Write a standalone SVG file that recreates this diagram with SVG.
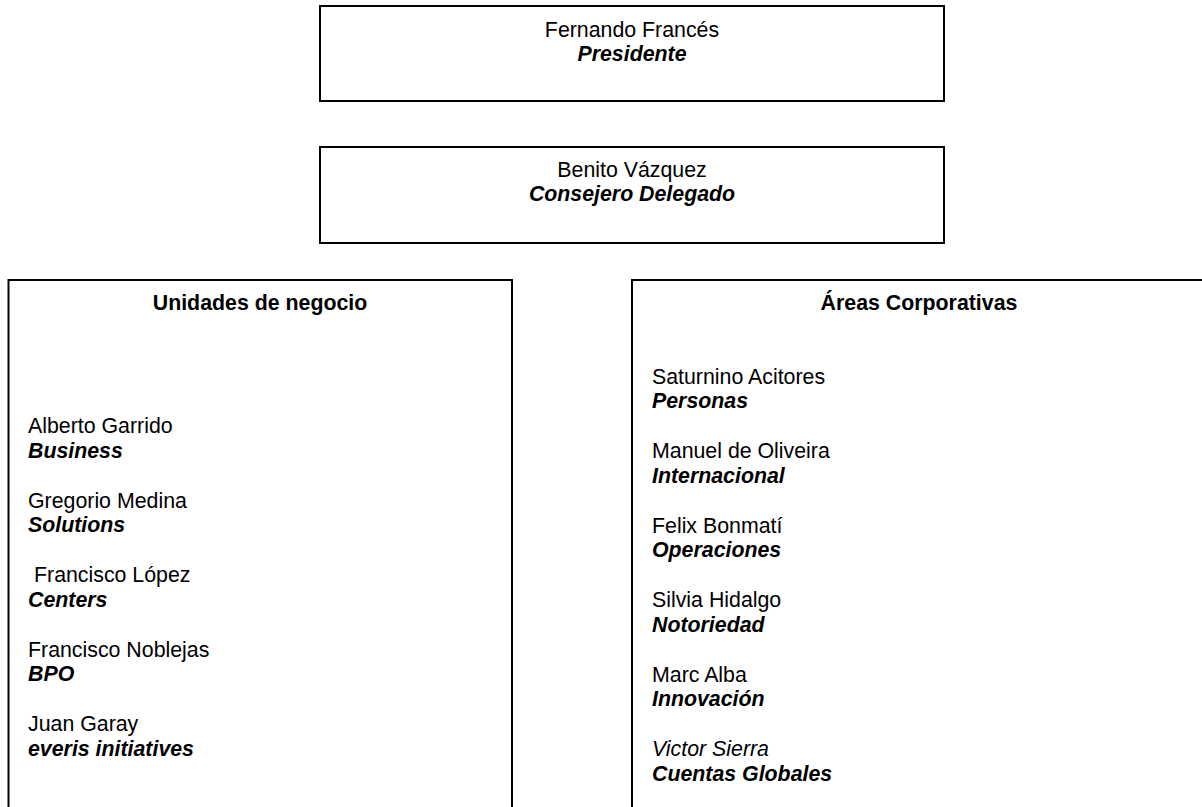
<svg xmlns="http://www.w3.org/2000/svg" width="1202" height="807" viewBox="0 0 1202 807">
<style>
.box{fill:#fff;stroke:#000;stroke-width:2}
text{font-family:"Liberation Sans",Arial,sans-serif;font-size:21.33px;fill:#000}
.c{text-anchor:middle}
.r{font-weight:bold;font-style:italic}
.h{font-weight:bold}
.i{font-style:italic}
</style>
<rect width="1202" height="807" fill="#fff"/>
<g id="connectors"></g>
<g id="presidente">
<rect class="box" x="320" y="6" width="624" height="95"/>
<text class="c" x="632" y="37">Fernando Francés</text>
<text class="c r" x="632" y="61">Presidente</text>
</g>
<g id="consejero">
<rect class="box" x="320" y="147" width="624" height="96"/>
<text class="c" x="632" y="177">Benito Vázquez</text>
<text class="c r" x="632" y="201">Consejero Delegado</text>
</g>
<g id="unidades">
<rect class="box" x="8.5" y="280" width="503.5" height="560"/>
<text class="c h" x="260" y="310">Unidades de negocio</text>
<text x="28" y="433">Alberto Garrido</text>
<text class="r" x="28" y="457.5">Business</text>
<text x="28" y="507.5">Gregorio Medina</text>
<text class="r" x="28" y="532">Solutions</text>
<text x="34" y="582">Francisco López</text>
<text class="r" x="28" y="606.5">Centers</text>
<text x="28" y="656.5">Francisco Noblejas</text>
<text class="r" x="28" y="681">BPO</text>
<text x="28" y="731">Juan Garay</text>
<text class="r" x="28" y="755.5">everis initiatives</text>
</g>
<g id="areas">
<rect class="box" x="632" y="280" width="600" height="560"/>
<text class="c h" x="919" y="310">Áreas Corporativas</text>
<text x="652" y="383.5">Saturnino Acitores</text>
<text class="r" x="652" y="408">Personas</text>
<text x="652" y="458">Manuel de Oliveira</text>
<text class="r" x="652" y="482.5">Internacional</text>
<text x="652" y="532.5">Felix Bonmatí</text>
<text class="r" x="652" y="557">Operaciones</text>
<text x="652" y="607">Silvia Hidalgo</text>
<text class="r" x="652" y="631.5">Notoriedad</text>
<text x="652" y="681.5">Marc Alba</text>
<text class="r" x="652" y="706">Innovación</text>
<text class="i" x="652" y="756">Victor Sierra</text>
<text class="r" x="652" y="780.5">Cuentas Globales</text>
</g>
</svg>
